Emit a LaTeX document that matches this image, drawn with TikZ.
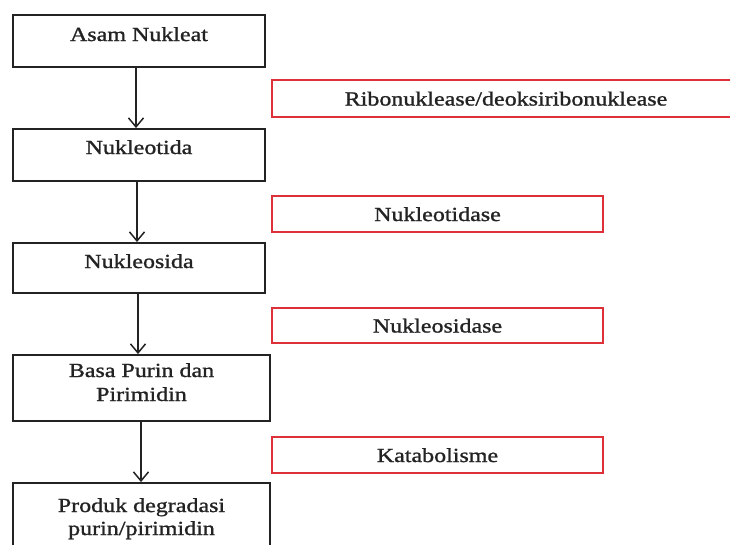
\documentclass[tikz,border=0pt]{standalone}
\usepackage{fontspec}
\setmainfont{Liberation Serif}[FakeStretch=1.2,FakeBold=1.2]
\usetikzlibrary{arrows.meta}
\definecolor{redline}{RGB}{222,48,56}
\definecolor{ink}{RGB}{35,35,35}
\tikzset{
  blackbox/.style={draw=ink, line width=1.9pt, rectangle, inner sep=0pt},
  redbox/.style={draw=redline, line width=1.5pt, rectangle, inner sep=0pt,
    text=ink, font=\fontsize{20}{24}\selectfont, text height=14pt, text depth=0pt},
  txt/.style={text=ink, font=\fontsize{20}{24}\selectfont, inner sep=0pt, anchor=base},
  flow/.style={draw=ink, line width=1.5pt, -{Straight Barb[length=9pt,width=15pt,line width=1.5pt]}}
}
\begin{document}
\begin{tikzpicture}[x=1pt,y=-1pt]
\useasboundingbox (0,0) rectangle (730,544);
\clip (0,0) rectangle (730,544);
% left boxes
\node[blackbox, minimum width=252pt, minimum height=52pt] (b1) at (139,41) {};
\node[blackbox, minimum width=252pt, minimum height=52pt] (b2) at (139,155) {};
\node[blackbox, minimum width=252pt, minimum height=50pt] (b3) at (139,268) {};
\node[blackbox, minimum width=257pt, minimum height=66pt] (b4) at (141.5,388) {};
\node[blackbox, minimum width=257pt, minimum height=90pt] (b5) at (141.5,528) {};
% texts
\node[txt] (t1) at (139,41) {Asam Nukleat};
\node[txt] (t2) at (139,154) {Nukleotida};
\node[txt] (t3) at (139,268) {Nukleosida};
\node[txt] (t4a) at (141.5,377) {Basa Purin dan};
\node[txt] (t4b) at (141.5,401) {Pirimidin};
\node[txt] (t5a) at (141.5,512) {Produk degradasi};
\node[txt] (t5b) at (141.5,535) {purin/pirimidin};
% red boxes
\node[redbox, minimum width=468pt, minimum height=37pt] (r1) at (506,98.5) {Ribonuklease/deoksiribonuklease};
\node[redbox, minimum width=331pt, minimum height=36pt] (r2) at (437.5,214) {Nukleotidase};
\node[redbox, minimum width=331pt, minimum height=35pt] (r3) at (437.5,325.5) {Nukleosidase};
\node[redbox, minimum width=331pt, minimum height=36pt] (r4) at (437.5,455) {Katabolisme};
% arrows
\draw[flow] ([xshift=-3pt]b1.south) -- ([xshift=-3pt]b1.south |- b2.north);
\draw[flow] ([xshift=-2pt]b2.south) -- ([xshift=-2pt]b2.south |- b3.north);
\draw[flow] ([xshift=-1pt]b3.south) -- ([xshift=-1pt]b3.south |- b4.north);
\draw[flow] ([xshift=-0.5pt]b4.south) -- ([xshift=-0.5pt]b4.south |- b5.north);
\end{tikzpicture}
\end{document}
